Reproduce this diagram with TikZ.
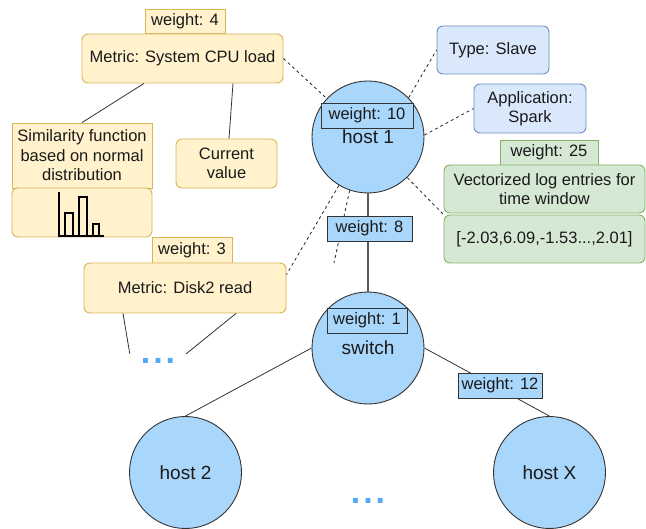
\documentclass[tikz,border=0pt]{standalone}
\usepackage{fontspec}
\setmainfont{Liberation Sans}
\usetikzlibrary{calc}
\definecolor{yfill}{HTML}{FFF2CC}
\definecolor{yline}{HTML}{D6B656}
\definecolor{bfill}{HTML}{DAE8FC}
\definecolor{bline}{HTML}{6C8EBF}
\definecolor{gfill}{HTML}{D5E8D4}
\definecolor{gline}{HTML}{82B366}
\definecolor{hostfill}{HTML}{A9D6FB}
\definecolor{dotblue}{HTML}{55A8F5}
\definecolor{txt}{HTML}{1A1A1A}
\begin{document}
\begin{tikzpicture}[x=1pt,y=-1pt,font=\fontsize{16.5}{19.5}\selectfont,
  box/.style={draw,line width=0.9pt,inner sep=0pt,align=center,text=txt},
  ybox/.style={box,fill=yfill,draw=yline},
  bbox/.style={box,fill=bfill,draw=bline},
  gbox/.style={box,fill=gfill,draw=gline},
  rnd/.style={rounded corners=6pt},
  wbox/.style={box,fill=hostfill,draw=black!80},
  hostnode/.style={circle,draw=black!80,line width=0.9pt,fill=hostfill,minimum size=112pt,inner sep=0pt,text=txt,font=\fontsize{19}{22}\selectfont},
  dashlink/.style={draw=black!85,line width=0.8pt,dash pattern=on 3pt off 3pt},
  link/.style={draw=black!80,line width=0.8pt},
  dotsnode/.style={inner sep=0pt,minimum width=56pt,minimum height=14pt,text=dotblue,font=\fontsize{34}{34}\selectfont\bfseries}
]
\useasboundingbox (0,0) rectangle (646,529);

% left yellow boxes
\node[ybox,minimum width=80pt,minimum height=24pt] (w4) at (185,21) {weight: 4};
\node[ybox,rnd,minimum width=201pt,minimum height=49pt] (cpu) at (182.5,58.5) {Metric: System CPU load};
\node[ybox,minimum width=140pt,minimum height=65pt] (sim) at (82,155.5) {Similarity function\\based on normal\\distribution};
\node[ybox,rnd,minimum width=140pt,minimum height=49pt] (hist) at (82,212.5) {};
\node[ybox,rnd,minimum width=101pt,minimum height=49pt] (cur) at (226.5,163.5) {Current\\value};
\node[ybox,minimum width=80pt,minimum height=26pt] (w3) at (192,250) {weight: 3};
\node[ybox,rnd,minimum width=202pt,minimum height=50pt] (disk) at (185,288) {Metric: Disk2 read};
\node[dotsnode] (dots1) at (158,361) {.\hspace{3pt}.\hspace{3pt}.};

% histogram
\draw[line width=1.6pt,black] (59,192) -- (59,236) -- (104,236);
\draw[line width=1.6pt,black] (65,236) -- (65,213) -- (73,213) -- (73,236);
\draw[line width=1.6pt,black] (79,236) -- (79,197) -- (87,197) -- (87,236);
\draw[line width=1.6pt,black] (93,236) -- (93,224) -- (99,224) -- (99,236);

% right boxes
\node[bbox,rnd,minimum width=112pt,minimum height=48pt] (type) at (493,50) {Type: Slave};
\node[bbox,rnd,minimum width=112pt,minimum height=49pt] (app) at (530,108.5) {Application:\\Spark};
\node[gbox,minimum width=98pt,minimum height=25pt] (w25) at (549,152.5) {weight: 25};
\node[gbox,rnd,minimum width=201pt,minimum height=48pt] (vec) at (544.5,189) {Vectorized log entries for\\time window};
\node[gbox,rnd,minimum width=201pt,minimum height=48pt] (vals) at (544.5,239) {[-2.03,6.09,-1.53...,2.01]};

% hosts
\node[hostnode] (host1) at (368,137) {host 1};
\node[wbox,minimum width=92pt,minimum height=25pt] (w10) at (367,115.5) {weight: 10};
\node[hostnode] (switch) at (368,348) {switch};
\node[wbox,minimum width=80pt,minimum height=25pt] (w1) at (367,320.5) {weight: 1};
\node[hostnode] (host2) at (185.5,472.5) {host 2};
\node[hostnode] (hostX) at (549.5,472.5) {host X};
\node[dotsnode] (dots2) at (368,501) {.\hspace{3pt}.\hspace{3pt}.};
\coordinate (free) at (334,263);

% solid links
\draw[link] ([xshift=-38.5pt]cpu.south) -- (sim.north);
\draw[link] ([xshift=50.5pt]cpu.south) -- ([xshift=2.5pt]cur.north);
\draw[link] ([xshift=-62pt]disk.south) -- (dots1.north west);
\draw[link] ([xshift=51pt]disk.south) -- (dots1.north east);
\draw[draw=black!65,line width=1.5pt] (host1.south) -- (switch.north);
\draw[link] (switch.west) -- (host2.north);
\draw[link] (switch.east) -- (hostX.north);

% dashed links
\draw[dashlink] (cpu.east) -- (host1.137);
\draw[dashlink] (host1.44) -- (type.west);
\draw[dashlink] (host1.2) -- (app.west);
\draw[dashlink] (host1.-46) -- (vals.north west);
\draw[dashlink] (host1.-121) -- ([yshift=-12pt]disk.north east);
\draw[dashlink] (host1.-109) -- (free);

% edge weights
\node[wbox,minimum width=85pt,minimum height=25pt] (w8) at (369.5,228.5) {weight: 8};
\node[wbox,minimum width=84pt,minimum height=25pt] (w12) at (500,385.5) {weight: 12};
\end{tikzpicture}
\end{document}
